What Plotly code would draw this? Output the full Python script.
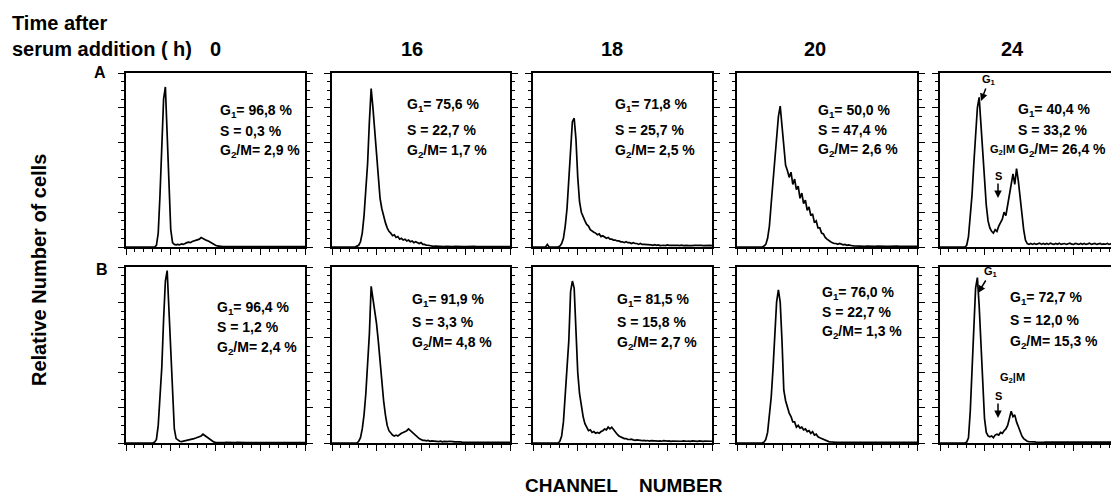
import plotly.graph_objects as go

# ---------------- data ----------------
channel = list(range(0, 201, 2))  # channel number (x), 101 bins

# Row A
a_0h = [0,0,0,0,0,0,0,0,0,0,
        0,0,0,0,0,0,0,1,8,30,
        55,85,92,68,38,10,2.5,1.5,1.2,1.5,
        1.2,1.8,1.5,2.2,2.5,2.8,2.5,3.2,3.5,3.8,
        4.2,4.5,5.5,4.8,4.5,3.8,3.5,2.8,2.2,1.5,
        1,0.6,0.4,0.3,0.2,0.3,0.2,0.2,0.3,0.2,
        0.2,0.3,0.2,0.2,0.3,0.2,0.2,0.2,0.3,0.2,
        0.2,0.2,0.3,0.2,0.2,0.2,0.3,0.2,0.2,0.2,
        0.3,0.2,0.2,0.2,0.2,0.3,0.2,0.2,0.2,0.3,
        0.2,0.2,0.2,0.3,0.2,0.2,0.2,0.2,0.3,0.2,
        0.2]
a_16h = [0,0,0,0,0,0,0,0,0,0,
         0,0,0,0,0.5,1,3,8,18,32,
         48,72,91,80,68,55,42,28,22,17,
         14,11,9,8,6.5,7,5.5,6,4.5,5,
         4,4.5,3.5,4,3,3.5,2.5,3,2.5,2,
         2.5,1.5,1.5,1,1,0.7,0.5,0.4,0.5,0.4,
         0.3,0.4,0.5,0.3,0.4,0.3,0.4,0.3,0.3,0.4,
         0.3,0.3,0.4,0.3,0.3,0.3,0.4,0.3,0.3,0.3,
         0.4,0.3,0.3,0.3,0.3,0.4,0.3,0.3,0.3,0.4,
         0.3,0.3,0.4,0.3,0.3,0.3,0.3,0.4,0.3,0.3,
         0.3]
a_18h = [0,0,0,0,0,0,0,0,1.5,0,
         0,0,0,0,0,0.5,2,5,12,22,
         38,55,72,74,62,40,26,20,17,15,
         13,12,10,9,8.5,8,7,7.5,6,6.5,
         5.5,5,5.5,4.5,4.5,4,4,3.5,3.5,3,
         3,2.5,3,2.5,2.5,2,2.5,2,2,1.5,
         2,1.5,1.5,1.5,1.2,1.5,1.2,1,1.3,1,
         1.2,0.8,1.1,1,0.8,1.2,0.9,1,0.8,1.1,
         0.9,1,0.8,1.1,0.8,1,0.9,0.8,1,0.8,
         0.9,1,0.8,0.9,1,0.8,0.9,0.8,1,0.9,
         0.8]
a_20h = [0,0,0,0,0,0,0,0,0,0,
         0,0,0,0,0,0.5,1.5,5,12,25,
         38,52,62,75,81,70,55,47,44,40,
         43,36,39,33,35,28,31,25,27,21,
         23,18,19,14,15,11,11,8,7.5,5.5,
         4.5,3.5,3,2.5,2,2,1.5,2,1.5,1.2,
         1.5,1,1.2,0.8,0.7,0.6,0.5,0.6,0.5,0.4,
         0.5,0.4,0.5,0.4,0.4,0.5,0.4,0.4,0.5,0.4,
         0.4,0.5,0.4,0.4,0.4,0.5,0.4,0.4,0.4,0.5,
         0.4,0.4,0.5,0.4,0.4,0.4,0.4,0.5,0.4,0.4,
         0.4]
a_24h = [0,0,0,0,0,0,0,0,0,0,
         0,0,0,0,0,1,6,18,30,48,
         62,80,86,70,55,38,24,15,11,9,
         8,10,9,12,14,16,20,18,24,30,
         38,42,36,45,38,28,20,10,4,2,
         1.5,2,1.5,2,1.5,1.8,2.2,1.5,2,1.6,
         2,1.5,2.2,1.8,1.5,2,1.6,2.2,1.5,1.8,
         2,1.5,1.8,2.2,1.6,1.5,2,1.8,1.5,2,
         1.6,2,1.5,1.8,2.2,1.5,1.8,2,1.5,1.6,
         2,1.5,1.8,1.6,2,1.5,1.8,1.5,2,1.6,
         1.5]

# Row B
b_0h = [0,0,0,0,0,0,0,0,0,0,
        0,0,0,0,0,0,0.5,2,10,25,
        43,70,92,98,75,48,22,8,2.5,1.5,
        1,0.8,1,1.2,1.5,1.5,2,2,2.5,2.8,
        3.2,3.5,4,5,4.2,3.5,2.5,1.8,1,0.6,
        0.4,0.3,0.2,0.3,0.2,0.2,0.3,0.2,0.2,0.3,
        0.2,0.2,0.3,0.2,0.2,0.2,0.3,0.2,0.2,0.2,
        0.3,0.2,0.2,0.2,0.3,0.2,0.2,0.2,0.3,0.2,
        0.2,0.3,0.2,0.2,0.2,0.3,0.2,0.2,0.2,0.3,
        0.2,0.2,0.3,0.2,0.2,0.2,0.3,0.2,0.2,0.2,
        0.2]
b_16h = [0,0,0,0,0,0,0,0,0,0,
         0,0,0,0,0,1,3,8,16,28,
         45,62,89,82,76,68,58,45,35,24,
         16,10,7,5.5,4.5,4,4.5,4,5,5.5,
         6,6.5,7,8,7,6.5,5,4,3,2.5,
         2,1.5,1.5,1.2,1.5,1,1.2,1,0.8,1,
         0.8,1,0.7,0.9,0.7,0.8,1,0.7,0.8,0.6,
         0.7,0.5,0.6,0.5,0.5,0.6,0.4,0.5,0.5,0.4,
         0.5,0.4,0.5,0.4,0.4,0.5,0.4,0.4,0.5,0.4,
         0.4,0.5,0.4,0.4,0.4,0.5,0.4,0.4,0.4,0.5,
         0.4]
b_18h = [0,0,0,0,0,0,0,0,0,0,
         0,0,0,0,0,1,4,12,28,42,
         58,86,92,88,60,40,28,20,15,11,
         9,7,7.5,6,6.5,5.5,6,5.5,6.5,7,
         8,7.5,9,8,9,7.5,6,5,4,3.5,
         3,2.5,2.5,2,2,2.2,1.8,1.5,1.8,1.5,
         1.6,1.3,1.5,1.2,1.4,1.1,1.3,1.2,1,1.3,
         1.1,1.2,1,1.3,1,1.1,1.2,0.9,1.1,1,
         1.2,0.9,1.1,1,1.2,0.9,1,1.1,0.9,1.2,
         1,1.1,0.9,1.2,1,0.9,1.1,1,1.2,0.9,
         1]
b_20h = [0,0,0,0,0,0,0,0,0,0,
         0,0,0,0,0,0.5,2,6,15,26,
         42,62,80,87,80,58,30,24,20,17,
         15,12,12,9,10,8.5,9,7.5,8,6.5,
         7,5.5,6.5,4.5,5,3.5,3,2.5,2,1.5,
         1,0.8,0.6,0.4,0.3,0.4,0.3,0.3,0.4,0.3,
         0.3,0.4,0.3,0.3,0.3,0.4,0.3,0.3,0.3,0.4,
         0.3,0.3,0.4,0.3,0.3,0.3,0.3,0.4,0.3,0.3,
         0.4,0.3,0.3,0.3,0.4,0.3,0.3,0.3,0.3,0.4,
         0.3,0.3,0.3,0.4,0.3,0.3,0.4,0.3,0.3,0.3,
         0.3]
b_24h = [0,0,0,0,0,0,0,0,0,0,
         0,0,0,0,0,0.5,3,18,38,65,
         88,94,78,55,35,14,6,4,3.5,4,
         3,4.5,5,4.5,6,5.5,7,8,10,14,
         18,15,16,12,9,6,4,2.5,1.5,1,
         0.8,0.6,0.5,0.6,0.5,0.4,0.5,0.6,0.4,0.5,
         0.5,0.4,0.6,0.5,0.4,0.5,0.5,0.6,0.4,0.5,
         0.5,0.6,0.4,0.5,0.5,0.4,0.6,0.5,0.4,0.5,
         0.6,0.4,0.5,0.5,0.6,0.4,0.5,0.5,0.4,0.6,
         0.5,0.4,0.5,0.6,0.5,0.4,0.5,0.5,0.6,0.4,
         0.5]

time_labels = ["0", "16", "18", "20", "24"]
row_labels = ["A", "B"]
g1_pct = [["96,8", "75,6", "71,8", "50,0", "40,4"],
          ["96,4", "91,9", "81,5", "76,0", "72,7"]]
s_pct = [["0,3", "22,7", "25,7", "47,4", "33,2"],
         ["1,2", "3,3", "15,8", "22,7", "12,0"]]
g2m_pct = [["2,9", "1,7", "2,5", "2,6", "26,4"],
           ["2,4", "4,8", "2,7", "1,3", "15,3"]]
series = [[a_0h, a_16h, a_18h, a_20h, a_24h],
          [b_0h, b_16h, b_18h, b_20h, b_24h]]

# ---------------- layout helpers ----------------
W, H = 1111, 497
def px(x):
    return x / W
def py(y):
    return 1 - y / H

col_px = [(126, 305), (332, 510), (533, 712), (737, 917), (940, 1111)]
row_px = [(73, 247), (267, 443)]
full_w = 178.0
text_pos = [[(218, 111, 131, 151), (405, 105, 130, 151), (613, 105, 130, 151),
             (816, 111, 130, 150), (1016, 110, 130, 150)],
            [(215, 308, 327, 348), (410, 300, 322, 343), (615, 300, 322, 343),
             (820, 293, 312, 332), (1008, 298, 320, 342)]]

FONT = "Liberation Sans"
fig = go.Figure()
layout = dict(width=W, height=H, margin=dict(l=0, r=0, t=0, b=0),
              paper_bgcolor="white", plot_bgcolor="white", showlegend=False)
annotations = []

k = 0
for r in range(2):
    for c in range(5):
        k += 1
        xa = "x" if k == 1 else f"x{k}"
        ya = "y" if k == 1 else f"y{k}"
        x0, x1 = col_px[c]
        y0, y1 = row_px[r]
        xmax = 200 * (x1 - x0) / full_w if c == 4 else 200
        fig.add_trace(go.Scatter(x=channel, y=series[r][c], mode="lines",
                                 line=dict(color="black", width=1.7),
                                 xaxis=xa, yaxis=ya, hoverinfo="skip"))
        layout["xaxis" if k == 1 else f"xaxis{k}"] = dict(
            domain=[px(x0), px(x1)], anchor=ya, range=[0, xmax],
            showgrid=False, zeroline=False, showticklabels=False,
            showline=True, linecolor="black", linewidth=1.8, mirror=True,
            ticks="outside", tick0=0, dtick=50, ticklen=6, tickwidth=1.2, tickcolor="black",
            minor=dict(ticks="outside", dtick=10, ticklen=3, tickwidth=1, tickcolor="black"))
        layout["yaxis" if k == 1 else f"yaxis{k}"] = dict(
            domain=[py(y1), py(y0)], anchor=xa, range=[0, 100],
            showgrid=False, zeroline=False, showticklabels=False,
            showline=True, linecolor="black", linewidth=1.8,
            mirror=("ticks" if c < 4 else False),
            ticks="outside", tick0=0, dtick=20, ticklen=6, tickwidth=1.2, tickcolor="black",
            minor=dict(ticks="outside", dtick=5, ticklen=3, tickwidth=1, tickcolor="black"))
        tx, ty1, ty2, ty3 = text_pos[r][c]
        for txt, ty in [(f"G<sub>1</sub>= {g1_pct[r][c]} %", ty1),
                        (f"S = {s_pct[r][c]} %", ty2),
                        (f"G<sub>2</sub>/M= {g2m_pct[r][c]} %", ty3)]:
            annotations.append(dict(text=f"<b>{txt}</b>", x=px(tx), y=py(ty),
                                    xref="paper", yref="paper", xanchor="left", yanchor="middle",
                                    showarrow=False, font=dict(family=FONT, size=14, color="black")))

def label(text, x, y, size=15, anchor="center", angle=0):
    annotations.append(dict(text=f"<b>{text}</b>", x=px(x), y=py(y), xref="paper", yref="paper",
                            xanchor=anchor, yanchor="middle", showarrow=False, textangle=angle,
                            font=dict(family=FONT, size=size, color="black")))

label("Time after", 10, 23, size=20, anchor="left")
label("serum addition ( h)", 10, 49, size=20, anchor="left")
for t, hx in zip(time_labels, [215, 412, 612, 815, 1012]):
    label(t, hx, 49, size=20)
label(row_labels[0], 100, 73, size=16)
label(row_labels[1], 102, 269, size=16)
label("Relative Number of cells", 39, 270, size=20, angle=-90)
label("CHANNEL\u00a0\u00a0\u00a0\u00a0NUMBER", 624, 485, size=19)

# phase markers in the 24 h panels
def arrow_label(text, hx, hy, tx, ty, size=11):
    annotations.append(dict(text=f"<b>{text}</b>", x=px(hx), y=py(hy), xref="paper", yref="paper",
                            ax=tx - hx, ay=ty - hy, showarrow=True, arrowhead=2, arrowsize=1,
                            arrowwidth=1.5, arrowcolor="black",
                            font=dict(family=FONT, size=size, color="black")))

arrow_label("G<sub>1</sub>", 981, 101, 989, 80)
arrow_label("S", 998, 198, 998, 176)
label("G<sub>2</sub>|M", 1002, 150, size=11)
arrow_label("G<sub>1</sub>", 978, 293, 991, 272)
arrow_label("S", 998, 418, 998, 396)
label("G<sub>2</sub>|M", 1012, 378, size=11)

layout["annotations"] = annotations
fig.update_layout(**layout)
fig.write_html("out.html", config={"displayModeBar": False},
               post_script="document.body.style.margin='0px';document.body.style.overflow='hidden';")
